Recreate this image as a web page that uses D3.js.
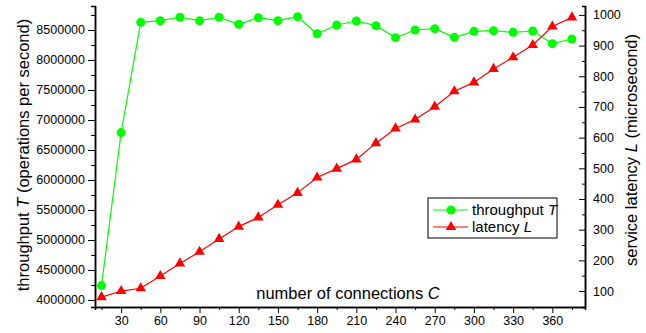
<!DOCTYPE html>
<html>
<head>
<meta charset="utf-8">
<script src="https://cdn.jsdelivr.net/npm/d3@7"></script>
<style>
    body { margin: 0; background: #fff; }
    text { font-family: "Liberation Sans", Arial, sans-serif; }
</style>
</head>
<body>
<div id="chart"></div>
<script>
// Dati
const connections = [15, 30, 45, 60, 75, 90, 105, 120, 135, 150, 165, 180, 195, 210, 225,
    240, 255, 270, 285, 300, 315, 330, 345, 360, 375];
const throughput = [4240000, 6790000, 8628000, 8655000, 8712000, 8655000, 8712000, 8595000,
    8705000, 8655000, 8722000, 8438000, 8583000, 8650000, 8572000, 8372000, 8500000,
    8522000, 8378000, 8478000, 8488000, 8462000, 8483000, 8272000, 8350000];
const latency = [80, 100, 109, 149, 190, 228, 270, 310, 340, 381, 420, 470, 499, 529, 582,
    630, 659, 701, 751, 780, 824, 862, 902, 962, 992];

const xTicks = [30, 60, 90, 120, 150, 180, 210, 240, 270, 300, 330, 360];
const xMinor = [15, 45, 75, 105, 135, 165, 195, 225, 255, 285, 315, 345, 375];
const leftTicks = [4000000, 4500000, 5000000, 5500000, 6000000, 6500000, 7000000, 7500000, 8000000, 8500000];
const leftMinor = [4250000, 4750000, 5250000, 5750000, 6250000, 6750000, 7250000, 7750000, 8250000, 8750000];
const rightTicks = [100, 200, 300, 400, 500, 600, 700, 800, 900, 1000];
const rightMinor = [150, 250, 350, 450, 550, 650, 750, 850, 950];

const W = 646, H = 333;
const plot = { left: 95, right: 585, top: 6, bottom: 307 };

const svg = d3.select("#chart")
    .append("svg")
    .attr("width", W)
    .attr("height", H);

// Scale
const x = d3.scaleLinear().domain([10, 385]).range([plot.left, plot.right]);
const yL = d3.scaleLinear().domain([3883000, 8900000]).range([plot.bottom, plot.top]);
const yR = d3.scaleLinear().domain([48, 1029]).range([plot.bottom, plot.top]);

// Assi
const axisStyle = g => {
    g.select(".domain").attr("stroke", "#000").attr("stroke-width", 1.5);
    g.selectAll(".tick line").attr("stroke", "#000").attr("stroke-width", 1);
    g.selectAll(".tick text").style("font-size", "12.5px").attr("fill", "#000");
};

svg.append("g")
    .attr("transform", `translate(0,${plot.bottom})`)
    .call(d3.axisBottom(x).tickValues(xMinor).tickSize(3).tickFormat(""))
    .call(axisStyle);
svg.append("g")
    .attr("transform", `translate(0,${plot.bottom})`)
    .call(d3.axisBottom(x).tickValues(xTicks).tickSize(6).tickSizeOuter(0).tickPadding(3))
    .call(axisStyle);

svg.append("g")
    .attr("transform", `translate(${plot.left},0)`)
    .call(d3.axisLeft(yL).tickValues(leftMinor).tickSize(4).tickFormat(""))
    .call(axisStyle);
svg.append("g")
    .attr("transform", `translate(${plot.left},0)`)
    .call(d3.axisLeft(yL).tickValues(leftTicks).tickSize(7).tickSizeOuter(0).tickPadding(3).tickFormat(d3.format("d")))
    .call(axisStyle);

// asse destro: tacche verso l'interno
svg.append("g")
    .attr("transform", `translate(${plot.right},0)`)
    .call(d3.axisRight(yR).tickValues(rightMinor).tickSize(-3).tickFormat(""))
    .call(axisStyle);
const gR = svg.append("g")
    .attr("transform", `translate(${plot.right},0)`)
    .call(d3.axisRight(yR).tickValues(rightTicks).tickSize(-6).tickSizeOuter(0).tickFormat(d3.format("d")))
    .call(axisStyle);
gR.selectAll(".tick text").attr("x", 8);

// Linea throughput
svg.append("path")
    .datum(connections.map((c, i) => [c, throughput[i]]))
    .attr("fill", "none")
    .attr("stroke", "#00ff00")
    .attr("stroke-width", 1.2)
    .attr("d", d3.line().x(d => x(d[0])).y(d => yL(d[1])));

// Linea latenza
svg.append("path")
    .datum(connections.map((c, i) => [c, latency[i]]))
    .attr("fill", "none")
    .attr("stroke", "#ff0000")
    .attr("stroke-width", 1.2)
    .attr("d", d3.line().x(d => x(d[0])).y(d => yR(d[1])));

const tri = d3.symbol().type(d3.symbolTriangle).size(48);

svg.append("g").selectAll("path")
    .data(connections.map((c, i) => [c, latency[i]]))
    .join("path")
    .attr("d", tri)
    .attr("transform", d => `translate(${x(d[0])},${yR(d[1])})`)
    .attr("fill", "#ff0000");

svg.append("g").selectAll("circle")
    .data(connections.map((c, i) => [c, throughput[i]]))
    .join("circle")
    .attr("cx", d => x(d[0]))
    .attr("cy", d => yL(d[1]))
    .attr("r", 4.5)
    .attr("fill", "#00ff00");

// Titoli assi
const xTitle = svg.append("text")
    .attr("x", 348).attr("y", 299)
    .attr("text-anchor", "middle")
    .style("font-size", "16.5px");
xTitle.append("tspan").text("number of connections ");
xTitle.append("tspan").style("font-style", "italic").text("C");

const lTitle = svg.append("text")
    .attr("transform", "translate(29,155) rotate(-90)")
    .attr("text-anchor", "middle")
    .style("font-size", "16.5px");
lTitle.append("tspan").text("throughput ");
lTitle.append("tspan").style("font-style", "italic").text("T");
lTitle.append("tspan").text(" (operations per second)");

const rTitle = svg.append("text")
    .attr("transform", "translate(637,150) rotate(-90)")
    .attr("text-anchor", "middle")
    .style("font-size", "16.5px");
rTitle.append("tspan").text("service latency ");
rTitle.append("tspan").style("font-style", "italic").text("L");
rTitle.append("tspan").text(" (microsecond)");

// Legenda
const leg = svg.append("g");
leg.append("rect")
    .attr("x", 428).attr("y", 198)
    .attr("width", 129).attr("height", 40)
    .attr("fill", "#fff")
    .attr("stroke", "#000")
    .attr("stroke-width", 1);

const legItems = [
    { label: "throughput ", it: "T", color: "#00ff00", shape: "circle" },
    { label: "latency ", it: "L", color: "#ff0000", shape: "triangle" }
];
legItems.forEach((d, i) => {
    const yy = 210 + i * 17;
    leg.append("line")
        .attr("x1", 433).attr("x2", 468)
        .attr("y1", yy).attr("y2", yy)
        .attr("stroke", d.color).attr("stroke-width", 1.2);
    if (d.shape === "circle") {
        leg.append("circle").attr("cx", 451).attr("cy", yy).attr("r", 4.5).attr("fill", d.color);
    } else {
        leg.append("path").attr("d", tri).attr("transform", `translate(451,${yy})`).attr("fill", d.color);
    }
    const t = leg.append("text")
        .attr("x", 472).attr("y", yy + 5)
        .style("font-size", "15px");
    t.append("tspan").text(d.label);
    t.append("tspan").style("font-style", "italic").text(d.it);
});
</script>
</body>
</html>
